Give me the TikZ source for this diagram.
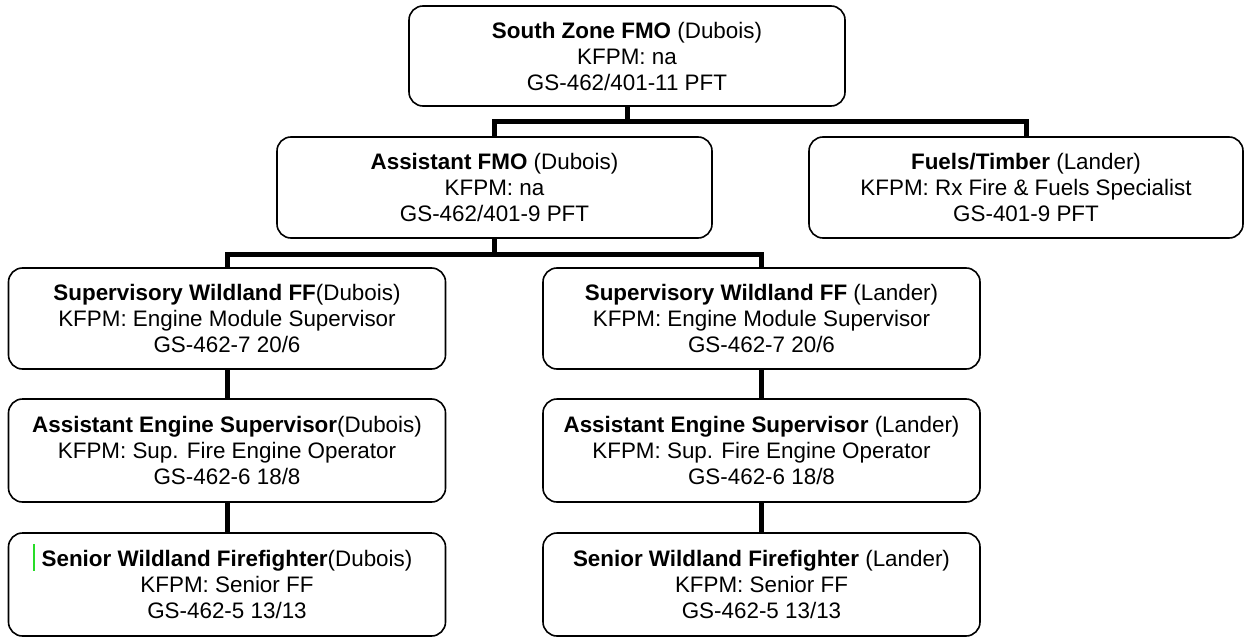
\documentclass[tikz,border=0pt]{standalone}
\usepackage{fontspec}
\setmainfont{Liberation Sans}
\usetikzlibrary{positioning}
\definecolor{cursorgreen}{RGB}{40,220,40}

\tikzset{
  post/.style={draw, line width=1.6pt, rounded corners=14pt, align=center,
    inner sep=0pt, minimum width=437pt, minimum height=101pt,
    font=\fontsize{22.4}{26}\selectfont},
  link/.style={line width=5pt},
}

\begin{document}
\begin{tikzpicture}[x=1pt, y=-1pt]
    \useasboundingbox (0,0) rectangle (1246,639);

    % Zone level
    \node[post, minimum width=436pt, minimum height=100pt] (zone) at (627,56)
        {\textbf{South Zone FMO} (Dubois)\\KFPM: na\\GS-462/401-11 PFT};

    % Assistant FMO and fuels
    \node[post, minimum width=435pt] (afmo) at (494.5,187.5)
        {\textbf{Assistant FMO} (Dubois)\\KFPM: na\\GS-462/401-9 PFT};
    \node[post, minimum width=434pt] (fuels) at (1026,187.5)
        {\textbf{Fuels/Timber} (Lander)\\KFPM: Rx Fire \& Fuels Specialist\\GS-401-9 PFT};

    % Dubois column
    \node[post] (supD) at (227,318.5)
        {\textbf{Supervisory Wildland FF}(Dubois)\\KFPM: Engine Module Supervisor\\GS-462-7 20/6};
    \node[post, minimum height=103pt] (aesD) at (227,450.5)
        {\textbf{Assistant Engine Supervisor}(Dubois)\\KFPM: Sup. Fire Engine Operator\\GS-462-6 18/8};
    \node[post, minimum height=103pt] (senD) at (227,584.5)
        {\textbf{Senior Wildland Firefighter}(Dubois)\\KFPM: Senior FF\\GS-462-5 13/13};

    % Lander column
    \node[post] (supL) at (761.5,318.5)
        {\textbf{Supervisory Wildland FF} (Lander)\\KFPM: Engine Module Supervisor\\GS-462-7 20/6};
    \node[post, minimum height=103pt] (aesL) at (761.5,450.5)
        {\textbf{Assistant Engine Supervisor} (Lander)\\KFPM: Sup. Fire Engine Operator\\GS-462-6 18/8};
    \node[post, minimum height=103pt] (senL) at (761.5,584.5)
        {\textbf{Senior Wildland Firefighter} (Lander)\\KFPM: Senior FF\\GS-462-5 13/13};

    % Connections from zone
    \draw[link] (zone.south) -- ++(0,16);
    \draw[link] (afmo.north) -- ++(0,-15) -| (fuels.north);

    % Connections from assistant FMO
    \draw[link] (afmo.south) -- ++(0,17);
    \draw[link] (supD.north) -- ++(0,-13) -| (supL.north);

    % Column links
    \draw[link] (supD.south) -- (aesD.north);
    \draw[link] (aesD.south) -- (senD.north);
    \draw[link] (supL.south) -- (aesL.north);
    \draw[link] (aesL.south) -- (senL.north);

    % Text cursor mark
    \draw[cursorgreen, line width=1.6pt] (34,544) -- (34,571);
\end{tikzpicture}
\end{document}
